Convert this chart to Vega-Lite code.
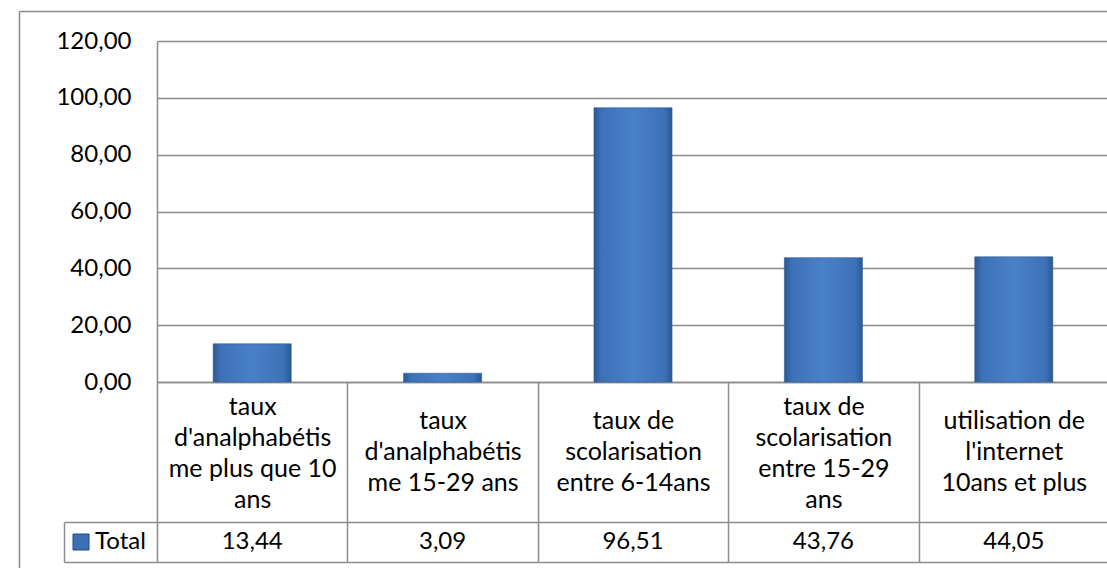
{
  "$schema": "https://vega.github.io/schema/vega-lite/v6.json",
  "width": 1088,
  "height": 557,
  "autosize": {"type": "none"},
  "padding": {"left": 19, "top": 11, "right": 0, "bottom": 0},
  "background": "white",
  "config": {
    "locale": {"number": {"decimal": ",", "thousands": " ", "grouping": [3], "currency": ["", " €"]}},
    "view": {"stroke": null},
    "font": "Lato",
    "axis": {"labelFont": "Lato", "labelFontSize": 24, "labelColor": "#000000"}
  },
  "data": {
    "values": [
      {"indicateur": "taux d'analphabétisme plus que 10 ans", "serie": "Total", "valeur": 13.44},
      {"indicateur": "taux d'analphabétisme 15-29 ans", "serie": "Total", "valeur": 3.09},
      {"indicateur": "taux de scolarisation entre 6-14ans", "serie": "Total", "valeur": 96.51},
      {"indicateur": "taux de scolarisation entre 15-29 ans", "serie": "Total", "valeur": 43.76},
      {"indicateur": "utilisation de l'internet 10ans et plus", "serie": "Total", "valeur": 44.05}
    ]
  },
  "layer": [
    {
      "mark": {
        "type": "bar",
        "width": {"band": 0.41},
        "color": {
          "gradient": "linear", "x1": 0, "x2": 1, "y1": 0, "y2": 0,
          "stops": [
            {"offset": 0, "color": "#2b5893"},
            {"offset": 0.1, "color": "#3d72b9"},
            {"offset": 0.5, "color": "#4a80c7"},
            {"offset": 0.9, "color": "#3d72b9"},
            {"offset": 1, "color": "#2b5893"}
          ]
        },
        "stroke": "#2d5b97",
        "strokeWidth": 0.6
      },
      "encoding": {
        "x": {
          "field": "indicateur", "type": "nominal", "sort": null,
          "scale": {"type": "band", "range": [138, 1090], "paddingInner": 0, "paddingOuter": 0},
          "axis": {
            "orient": "bottom", "offset": -186, "title": null,
            "domain": true, "domainColor": "#8c8c8c", "domainWidth": 1.5,
            "ticks": true, "tickBand": "extent", "tickSize": 180, "tickColor": "#8c8c8c", "tickWidth": 1.5,
            "grid": false, "labelAngle": 0, "labelAlign": "center", "labelBaseline": "middle",
            "labelFontSize": 25, "labelLineHeight": 31.3, "labelLimit": 190, "labelOverlap": false,
            "labelPadding": {
              "condition": {"test": "datum.value === \"taux d'analphabétisme plus que 10 ans\" || datum.value === \"taux de scolarisation entre 15-29 ans\"", "value": -156},
              "value": -142
            },
            "labelExpr": "datum.value === \"taux d'analphabétisme plus que 10 ans\" ? [\"taux\", \"d'analphabétis\", \"me plus que 10\", \"ans\"] : datum.value === \"taux d'analphabétisme 15-29 ans\" ? [\"taux\", \"d'analphabétis\", \"me 15-29 ans\"] : datum.value === \"taux de scolarisation entre 6-14ans\" ? [\"taux de\", \"scolarisation\", \"entre 6-14ans\"] : datum.value === \"taux de scolarisation entre 15-29 ans\" ? [\"taux de\", \"scolarisation\", \"entre 15-29\", \"ans\"] : datum.value === \"utilisation de l'internet 10ans et plus\" ? [\"utilisation de\", \"l'internet\", \"10ans et plus\"] : ''"
          }
        },
        "y": {
          "field": "valeur", "type": "quantitative",
          "scale": {"domain": [0, 120], "range": [371, 30], "nice": false},
          "axis": {
            "orient": "left", "offset": -138, "title": null,
            "values": [0, 20, 40, 60, 80, 100, 120], "format": ".2f",
            "grid": true, "gridColor": "#8c8c8c", "gridWidth": 1.5,
            "ticks": false, "domain": true, "domainColor": "#8c8c8c", "domainWidth": 1.5,
            "labelPadding": 26
          }
        }
      }
    },
    {
      "mark": {"type": "square", "opacity": 0},
      "encoding": {
        "x": {
          "field": "serie", "type": "nominal",
          "scale": {"type": "band", "range": [0, 1090]},
          "axis": {"orient": "top", "title": null, "labels": false, "ticks": false, "grid": false, "domain": true, "domainColor": "#8c8c8c", "domainWidth": 1.5}
        },
        "y": {
          "field": "serie", "type": "nominal",
          "scale": {"type": "band", "range": [0, 557]},
          "axis": {"orient": "left", "offset": 0, "title": null, "labels": false, "ticks": false, "grid": false, "domain": true, "domainColor": "#8c8c8c", "domainWidth": 1.5}
        },
        "color": {
          "field": "serie", "type": "nominal",
          "scale": {"range": ["#3b70b6"]},
          "legend": {
            "orient": "none", "legendX": 50, "legendY": 519, "title": null,
            "symbolType": "square", "symbolSize": 256, "symbolOpacity": 1,
            "symbolStrokeColor": "#24497c", "symbolStrokeWidth": 1,
            "labelFont": "Lato", "labelFontSize": 24, "labelColor": "#000000",
            "labelOffset": 2, "padding": 0
          }
        }
      }
    },
    {
      "mark": {"type": "text", "font": "Lato", "fontSize": 24, "color": "#000000", "baseline": "middle", "align": "center"},
      "encoding": {
        "x": {
          "field": "indicateur", "type": "nominal", "sort": null,
          "scale": {"type": "band", "range": [138, 1090], "paddingInner": 0, "paddingOuter": 0},
          "axis": null
        },
        "y": {
          "field": "serie", "type": "nominal",
          "scale": {"type": "band", "range": [511, 551], "paddingInner": 0, "paddingOuter": 0},
          "axis": {
            "orient": "left", "offset": -45, "title": null,
            "domain": true, "domainColor": "#8c8c8c", "domainWidth": 1.5,
            "ticks": true, "tickBand": "extent", "tickSize": -93, "tickColor": "#8c8c8c", "tickWidth": 1.5,
            "grid": true, "gridColor": "#8c8c8c", "gridWidth": 1.5,
            "labels": false
          }
        },
        "text": {"field": "valeur", "type": "quantitative", "format": ".2f"}
      }
    }
  ],
  "resolve": {"scale": {"x": "independent", "y": "independent"}}
}
